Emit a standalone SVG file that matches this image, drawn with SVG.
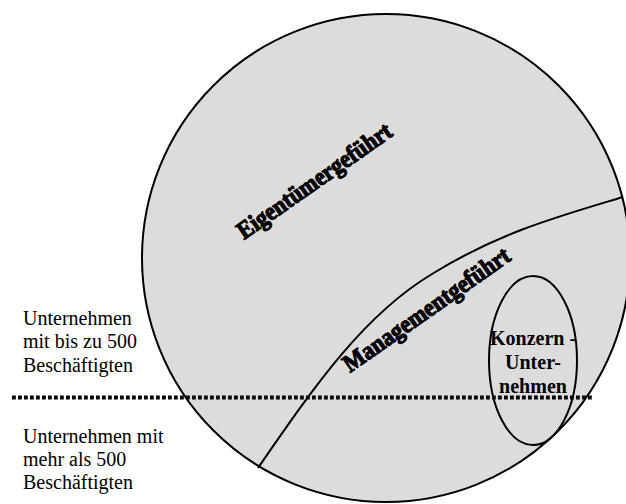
<svg xmlns="http://www.w3.org/2000/svg" width="626" height="504" viewBox="0 0 626 504">
<style>
.shape{fill:none;stroke:#000;stroke-width:2}
.lbl{font-family:"Liberation Serif","Times New Roman",serif;font-size:20px;fill:#000}
.bold{font-weight:bold}
.fancy{font-family:"Liberation Serif","Times New Roman",serif;font-size:25px;font-weight:bold;fill:#000;stroke:#000;stroke-width:1.2;stroke-linejoin:round}
</style>
<rect width="626" height="504" fill="#fff"/>
<g id="gesamt">
<circle cx="386" cy="258" r="244" fill="#dcdcdc" stroke="#000" stroke-width="2"/>
</g>
<g id="connectors">
<path class="shape" d="M258,468 C312,390 362,316 432,274 C500,232 560,216 623,197"/>
<line x1="12" y1="397.5" x2="593" y2="397.5" stroke="#000" stroke-width="3.8" stroke-dasharray="3.8 2.2"/>
</g>
<g id="eigentuemer">
<text class="fancy" transform="translate(244,240) rotate(-35)" textLength="183" lengthAdjust="spacingAndGlyphs">Eigentümergeführt</text>
</g>
<g id="management">
<text class="fancy" transform="translate(350,373) rotate(-35)" textLength="198" lengthAdjust="spacingAndGlyphs">Managementgeführt</text>
</g>
<g id="konzern">
<ellipse class="shape" cx="533" cy="360.5" rx="44" ry="84.5"/>
<text class="lbl bold" x="533" y="345" text-anchor="middle">Konzern -</text>
<text class="lbl bold" x="533" y="369" text-anchor="middle">Unter-</text>
<text class="lbl bold" x="533" y="393" text-anchor="middle">nehmen</text>
</g>
<g id="klein">
<text class="lbl" x="23" y="325">Unternehmen</text>
<text class="lbl" x="23" y="348">mit bis zu 500</text>
<text class="lbl" x="23" y="372">Beschäftigten</text>
</g>
<g id="gross">
<text class="lbl" x="23" y="443">Unternehmen mit</text>
<text class="lbl" x="23" y="466">mehr als 500</text>
<text class="lbl" x="23" y="489">Beschäftigten</text>
</g>
</svg>
